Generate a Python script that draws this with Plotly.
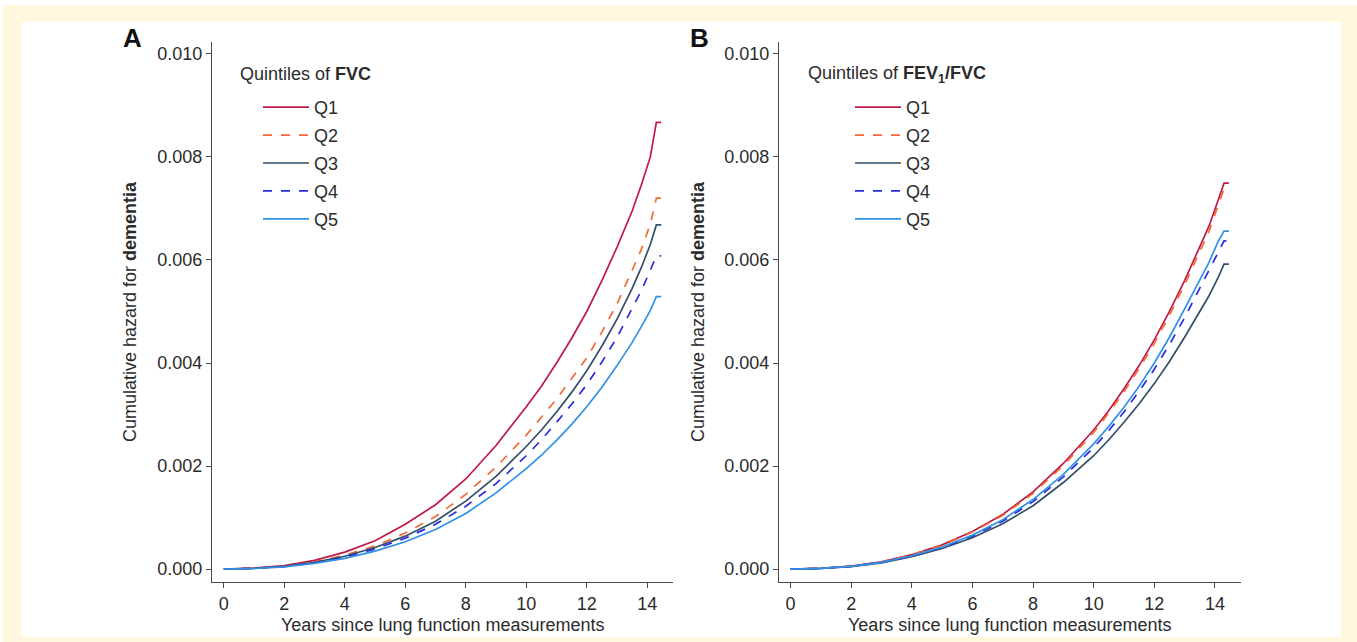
import plotly.graph_objects as go

# ---------------- data (cumulative hazard, x 1e-3) ----------------
years = [0, 1, 2, 3, 4, 5, 6, 7, 8, 9, 10, 10.5, 11, 11.5, 12, 12.5, 13, 13.5, 13.8, 14.1, 14.3, 14.46]

fvc_q1 = [0, 0.02, 0.07, 0.17, 0.33, 0.55, 0.87, 1.25, 1.75, 2.40, 3.15, 3.55, 4.00, 4.48, 5.00, 5.60, 6.25, 6.95, 7.45, 8.00, 8.67, 8.67]
fvc_q2 = [0, 0.015, 0.06, 0.14, 0.27, 0.45, 0.70, 1.02, 1.45, 1.98, 2.60, 2.94, 3.30, 3.70, 4.10, 4.60, 5.15, 5.80, 6.20, 6.70, 7.20, 7.20]
fvc_q3 = [0, 0.015, 0.055, 0.13, 0.25, 0.42, 0.64, 0.93, 1.32, 1.80, 2.38, 2.70, 3.05, 3.43, 3.85, 4.33, 4.85, 5.45, 5.85, 6.30, 6.68, 6.68]
fvc_q4 = [0, 0.015, 0.05, 0.12, 0.23, 0.39, 0.60, 0.87, 1.22, 1.66, 2.20, 2.51, 2.85, 3.20, 3.58, 4.02, 4.50, 5.05, 5.40, 5.80, 6.08, 6.08]
fvc_q5 = [0, 0.012, 0.045, 0.11, 0.21, 0.35, 0.53, 0.77, 1.08, 1.48, 1.95, 2.21, 2.50, 2.81, 3.15, 3.53, 3.95, 4.40, 4.70, 5.02, 5.29, 5.29]

ratio_q1 = [0, 0.015, 0.06, 0.14, 0.28, 0.47, 0.73, 1.06, 1.50, 2.05, 2.70, 3.08, 3.50, 3.95, 4.45, 5.00, 5.60, 6.25, 6.65, 7.15, 7.49, 7.49]
ratio_q2 = [0, 0.015, 0.06, 0.14, 0.28, 0.46, 0.72, 1.04, 1.47, 2.01, 2.65, 3.03, 3.44, 3.89, 4.38, 4.93, 5.52, 6.15, 6.55, 7.05, 7.38, 7.38]
ratio_q3 = [0, 0.013, 0.05, 0.12, 0.24, 0.40, 0.61, 0.88, 1.23, 1.68, 2.20, 2.51, 2.85, 3.21, 3.60, 4.03, 4.50, 5.00, 5.30, 5.65, 5.92, 5.92]
ratio_q4 = [0, 0.014, 0.055, 0.13, 0.25, 0.42, 0.64, 0.93, 1.31, 1.79, 2.36, 2.69, 3.05, 3.45, 3.88, 4.36, 4.88, 5.45, 5.80, 6.15, 6.37, 6.37]
ratio_q5 = [0, 0.014, 0.055, 0.13, 0.26, 0.43, 0.66, 0.96, 1.35, 1.84, 2.43, 2.77, 3.14, 3.55, 4.00, 4.50, 5.05, 5.62, 5.95, 6.35, 6.56, 6.56]

quintiles = ["Q1", "Q2", "Q3", "Q4", "Q5"]
colors = ["#bf1a45", "#f26a33", "#334e69", "#2a2ae0", "#2f92e6"]
dashes = ["solid", "dash", "solid", "dash", "solid"]

y_ticks = [0.000, 0.002, 0.004, 0.006, 0.008, 0.010]
y_tick_labels = ["0.000", "0.002", "0.004", "0.006", "0.008", "0.010"]
x_ticks = [0, 2, 4, 6, 8, 10, 12, 14]

W, H = 1357, 642
FONT = "Liberation Sans, Arial, Helvetica, sans-serif"
AX = "#4a4a4a"
TXT = "#2b2b2b"


def px(x):
    return x / W


def py(y):
    return 1 - y / H


fig = go.Figure()

panels = [
    ("x", "y", "legend", "a", [fvc_q1, fvc_q2, fvc_q3, fvc_q4, fvc_q5]),
    ("x2", "y2", "legend2", "b", [ratio_q1, ratio_q2, ratio_q3, ratio_q4, ratio_q5]),
]
for xa, ya, lg, tag, series in panels:
    for name, vals, c, d in zip(quintiles, series, colors, dashes):
        fig.add_trace(go.Scatter(
            x=years, y=[v / 1000 for v in vals], mode="lines", name=name,
            line=dict(color=c, width=1.7, dash=d), legendgroup=tag + name,
            xaxis=xa, yaxis=ya, legend=lg, hoverinfo="skip"))

axis_common = dict(showgrid=False, zeroline=False, showline=True, linecolor=AX, linewidth=1.3,
                   ticks="outside", ticklen=5, tickwidth=1.2, tickcolor=AX,
                   tickfont=dict(family=FONT, size=18, color=TXT))

ydom = [py(582), py(42)]
fig.update_layout(
    xaxis=dict(domain=[px(212), px(673)], range=[-0.39, 14.85], tickvals=x_ticks, anchor="y", **axis_common),
    yaxis=dict(domain=ydom, range=[-0.00025, 0.01023], tickvals=y_ticks, ticktext=y_tick_labels, anchor="x", **axis_common),
    xaxis2=dict(domain=[px(779), px(1241)], range=[-0.38, 14.86], tickvals=x_ticks, anchor="y2", **axis_common),
    yaxis2=dict(domain=ydom, range=[-0.00025, 0.01023], tickvals=y_ticks, ticktext=y_tick_labels, anchor="x2", **axis_common),
)

leg_common = dict(bgcolor="rgba(0,0,0,0)", font=dict(family=FONT, size=18, color=TXT),
                  xanchor="left", yanchor="top", itemwidth=46, tracegroupgap=1.5,
                  itemclick=False, itemdoubleclick=False)
fig.update_layout(
    legend=dict(x=px(258), y=py(89), **leg_common),
    legend2=dict(x=px(850), y=py(89), **leg_common),
)

ann = []
# panel letters
ann.append(dict(x=px(132), y=py(38), text="<b>A</b>", font=dict(family=FONT, size=26, color="#111")))
ann.append(dict(x=px(699), y=py(38), text="<b>B</b>", font=dict(family=FONT, size=26, color="#111")))
# legend titles
ann.append(dict(x=px(238), y=py(74), text="Quintiles of <b>FVC</b>", xanchor="left",
                font=dict(family=FONT, size=18, color=TXT)))
ann.append(dict(x=px(806), y=py(74), text="Quintiles of <b>FEV<sub>1</sub>/FVC</b>", xanchor="left",
                font=dict(family=FONT, size=18, color=TXT)))
# axis titles
for xc in (130, 698):
    ann.append(dict(x=px(xc), y=(ydom[0] + ydom[1]) / 2, text="Cumulative hazard for <b>dementia</b>",
                    textangle=-90, font=dict(family=FONT, size=18, color=TXT)))
for xc in (442.5, 1010):
    ann.append(dict(x=px(xc), y=py(625), text="Years since lung function measurements",
                    font=dict(family=FONT, size=18, color=TXT)))
for a in ann:
    a.update(xref="paper", yref="paper", showarrow=False)
    a.setdefault("xanchor", "center")
    a.setdefault("yanchor", "middle")

shapes = [
    dict(type="rect", xref="paper", yref="paper", x0=px(3), x1=1, y0=0, y1=py(5),
         fillcolor="#fff8de", line=dict(width=0), layer="below"),
    dict(type="rect", xref="paper", yref="paper", x0=px(22), x1=px(1341), y0=py(637), y1=py(22),
         fillcolor="#ffffff", line=dict(width=0), layer="below"),
]

fig.update_layout(
    width=W, height=H, margin=dict(l=0, r=0, t=0, b=0),
    paper_bgcolor="#ffffff", plot_bgcolor="rgba(0,0,0,0)",
    annotations=ann, shapes=shapes, showlegend=True,
)

fig.write_html("out.html", config={"displayModeBar": False},
               post_script="document.body.style.margin='0';")
